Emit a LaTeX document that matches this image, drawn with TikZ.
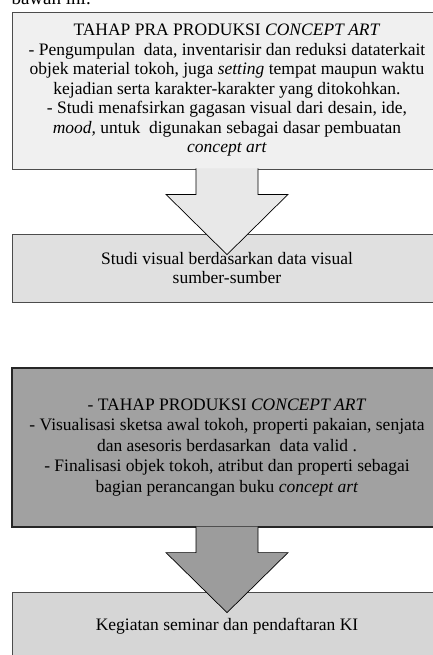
\documentclass[tikz,border=0pt]{standalone}
\usepackage{fontspec}
\setmainfont{Liberation Serif}
\usetikzlibrary{calc,positioning}

\begin{document}
\begin{tikzpicture}[x=1pt,y=-1pt,
  stage/.style={draw=black!70, line width=0.8pt, minimum width=430pt, inner sep=0pt, align=center, font=\fontsize{17.5}{19.5}\selectfont},
  blockarrow/.style={draw=black, line width=0.7pt, line join=miter}]

\useasboundingbox (0,0) rectangle (432,655);

\node [anchor=base west, font=\fontsize{19}{20}\selectfont] (judul) at (8,5) {bawah ini:};

% tahap pra produksi
\node [stage, fill=black!6, minimum height=157pt] (pra) at (227,90.5) {TAHAP PRA PRODUKSI \textit{CONCEPT ART}\\
- Pengumpulan\ \ data, inventarisir dan reduksi dataterkait\\
objek material tokoh, juga \textit{setting} tempat maupun waktu\\
kejadian serta karakter-karakter yang ditokohkan.\\
- Studi menafsirkan gagasan visual dari desain, ide,\\
\textit{mood,} untuk\ \ digunakan sebagai dasar pembuatan\\
\textit{concept art}};

\node [stage, fill=black!12, minimum height=68pt, font=\fontsize{17.5}{19}\selectfont] (studi) at (227,268) {Studi visual berdasarkan data visual\\ sumber-sumber};

% tahap produksi
\node [stage, fill=black!37, draw=black!85, line width=1.2pt, minimum height=159pt, font=\fontsize{17.5}{20.5}\selectfont] (produksi) at (227,447.5) {- TAHAP PRODUKSI \textit{CONCEPT ART}\\
- Visualisasi sketsa awal tokoh, properti pakaian, senjata\\
dan asesoris berdasarkan\ \ data valid .\\
- Finalisasi objek tokoh, atribut dan properti sebagai\\
bagian perancangan buku \textit{concept art}};

\node [stage, fill=black!16, minimum height=68pt] (seminar) at (227,626) {Kegiatan seminar dan pendaftaran KI};

% panah
\draw [blockarrow, fill=black!9] ($(pra.south)+(-31,-1)$) -- ++(0,26) -- ++(-30,0)
  -- ($(studi.north)+(0,21)$) -- ($(pra.south)+(61,25)$) -- ++(-30,0) -- ++(0,-26);
\draw [blockarrow, fill=black!39] ($(produksi.south)+(-31,-1)$) -- ++(0,26) -- ++(-30,0)
  -- ($(seminar.north)+(0,21)$) -- ($(produksi.south)+(61,25)$) -- ++(-30,0) -- ++(0,-26);

\end{tikzpicture}
\end{document}
